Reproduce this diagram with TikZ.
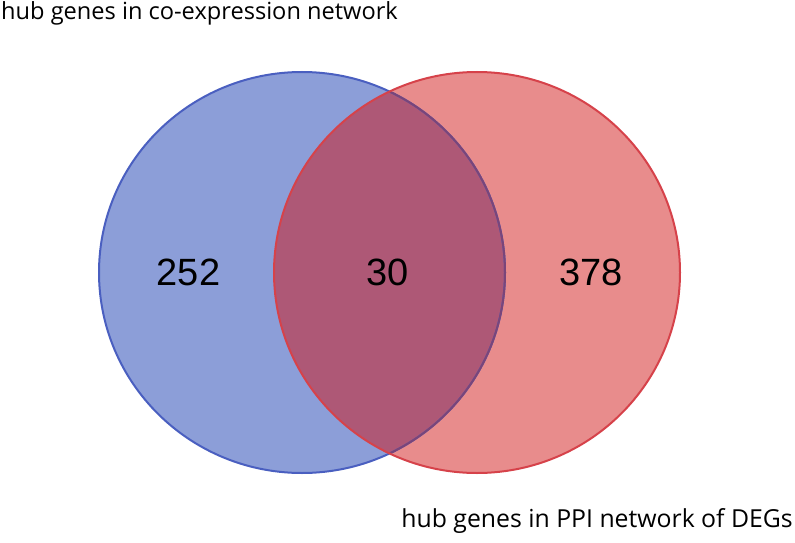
\documentclass[tikz,border=0pt]{standalone}
\usepackage{fontspec}
\setmainfont{Liberation Sans}
\newfontfamily\titlefont{Open Sans}
\definecolor{bfill}{HTML}{8C9ED8}
\definecolor{bline}{HTML}{4A5FC0}
\definecolor{rfill}{HTML}{E88C8C}
\definecolor{rline}{HTML}{D6424A}
\definecolor{ofill}{HTML}{AE5876}
\definecolor{oline}{HTML}{7A4579}
\begin{document}
\begin{tikzpicture}[x=1pt,y=-1pt,
  num/.style={font=\fontsize{38}{40}\selectfont, anchor=base, inner sep=0pt},
  ttl/.style={font=\titlefont\fontsize{23.6}{28}\selectfont, inner sep=0pt}]
\useasboundingbox (0,0) rectangle (795,543);
\def\blueE{(302,272.5) ellipse [x radius=203, y radius=200.5]}
\def\redE{(477,272.5) ellipse [x radius=203, y radius=200.5]}
\fill[bfill] \blueE;
\fill[rfill] \redE;
\begin{scope}
  \clip \blueE;
  \fill[ofill] \redE;
\end{scope}
\draw[bline, line width=2pt] \blueE;
\begin{scope}
  \clip \redE;
  \draw[oline, line width=2pt] \blueE;
\end{scope}
\draw[rline, line width=2pt] \redE;
\node[num] (n1) at (188.5,285) {252};
\node[num] (n2) at (387.5,285) {30};
\node[num] (n3) at (591,285) {378};
\node[ttl, anchor=base west] (t1) at (1,20) {hub genes in co-expression network};
\node[ttl, anchor=base east, font=\titlefont\fontsize{24.8}{28}\selectfont] (t2) at (793,527) {hub genes in PPI network of DEGs};
\end{tikzpicture}
\end{document}
